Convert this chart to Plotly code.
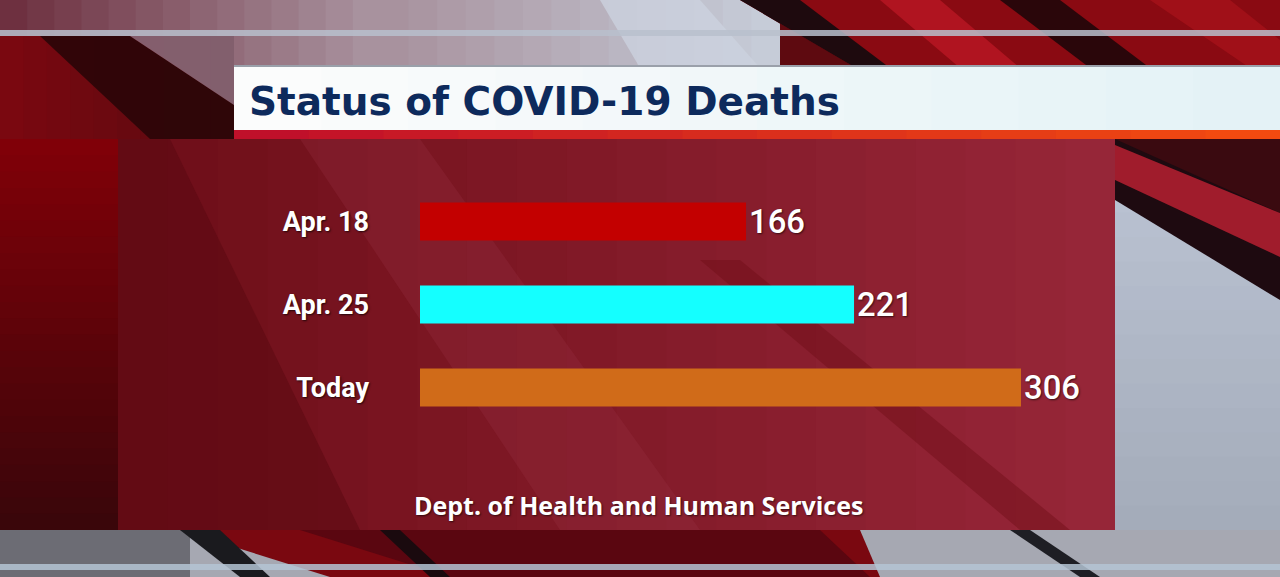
import plotly.graph_objects as go

categories = ["Apr. 18", "Apr. 25", "Today"]
deaths = [166, 221, 306]
bar_colors = ["#c30000", "#14ffff", "#d06b19"]
title_text = "Status of COVID-19 Deaths"
source_text = "Dept. of Health and Human Services"

W, H = 1280, 577
L, R, T, B = 420, 1107, 180, 429  # plot area in pixels


def px(x):
    return (x - L) / (R - L)


def py(y):
    return (B - y) / (B - T)


def poly(points, color, opacity=1.0):
    path = "M " + " L ".join(f"{px(x)},{py(y)}" for x, y in points) + " Z"
    return dict(type="path", xref="paper", yref="paper", path=path,
                fillcolor=color, line=dict(width=0), opacity=opacity, layer="below")


def rect(x0, y0, x1, y1, color, opacity=1.0):
    return dict(type="rect", xref="paper", yref="paper", x0=px(x0), x1=px(x1),
                y0=py(y1), y1=py(y0), fillcolor=color, line=dict(width=0),
                opacity=opacity, layer="below")


def mix(c0, c1, t):
    a = [int(c0[i:i + 2], 16) for i in (1, 3, 5)]
    b = [int(c1[i:i + 2], 16) for i in (1, 3, 5)]
    return "#" + "".join(f"{round(a[k] + (b[k] - a[k]) * t):02x}" for k in range(3))


def grad(x0, y0, x1, y1, c0, c1, n=16, horizontal=True):
    out = []
    for i in range(n):
        t = i / (n - 1)
        last = i == n - 1
        if horizontal:
            a, b = x0 + (x1 - x0) * i / n, x0 + (x1 - x0) * (i + 1) / n
            out.append(rect(a, y0, b if last else b + 2, y1, mix(c0, c1, t)))
        else:
            a, b = y0 + (y1 - y0) * i / n, y0 + (y1 - y0) * (i + 1) / n
            out.append(rect(x0, a, x1, b if last else b + 2, mix(c0, c1, t)))
    return out


shapes = [rect(0, 0, W, H, "#5e0a10")]
# top strip gradient
shapes += grad(0, 0, 380, 68, "#6e3040", "#a8929e", 14)
shapes += grad(380, 0, 780, 68, "#a8929e", "#c6ccd8", 14)
shapes += [
    poly([(600, 0), (700, 0), (760, 68), (640, 68)], "#ccd2de", 0.8),
    poly([(740, 0), (1280, 0), (1280, 68), (856, 68)], "#8a0a12"),
    poly([(740, 0), (800, 0), (890, 68), (856, 68)], "#1e0a0e"),
    poly([(880, 0), (940, 0), (1020, 68), (960, 68)], "#b01420"),
    poly([(1000, 0), (1060, 0), (1150, 68), (1090, 68)], "#2a060a"),
    poly([(1150, 0), (1230, 0), (1280, 40), (1280, 68), (1250, 68)], "#a01018"),
]
# left beside banner
shapes += grad(0, 36, 234, 139, "#7a0810", "#5a0a10", 10)
shapes += [
    poly([(40, 36), (130, 36), (234, 105), (234, 139), (150, 139)], "#2a0508", 0.9),
    poly([(130, 36), (234, 36), (234, 105)], "#8c7484", 0.8),
]
# left side vertical gradient
shapes += grad(0, 139, 118, 530, "#800008", "#3a060a", 24, horizontal=False)
# right side
shapes += grad(1115, 139, W, 530, "#bcc4d4", "#a4acba", 16, horizontal=False)
shapes += [
    poly([(1115, 139), (1280, 139), (1280, 300), (1115, 200)], "#1e0a10"),
    poly([(1115, 139), (1280, 139), (1280, 213)], "#3a0a10"),
    poly([(1115, 145), (1280, 213), (1280, 257), (1115, 180)], "#a01c2c"),
]
# bottom strip
shapes += [
    rect(0, 530, W, H, "#a6a8b2"),
    rect(0, 530, 190, H, "#6c6c74"),
    poly([(180, 530), (860, 530), (880, 577), (330, 577)], "#7a0810"),
    poly([(300, 530), (820, 530), (870, 577), (450, 577)], "#5a0610"),
    poly([(180, 530), (220, 530), (270, 577), (240, 577)], "#1a1a1e"),
    poly([(380, 530), (400, 530), (450, 577), (430, 577)], "#1a0a0e"),
    poly([(1010, 530), (1030, 530), (1100, 577), (1080, 577)], "#1e1e24"),
    # thin lines
    rect(0, 30, W, 36, "#b8c0cc", 0.85),
    rect(0, 564, W, 570, "#b4c4d4", 0.85),
]
# red panel
shapes += grad(118, 139, 1115, 530, "#6e0e18", "#962638", 20)
shapes += [
    poly([(300, 139), (420, 139), (700, 530), (560, 530)], "#9a3446", 0.25),
    poly([(700, 260), (740, 260), (1070, 530), (1020, 530)], "#6e0d16", 0.45),
    poly([(118, 139), (170, 139), (360, 530), (118, 530)], "#580810", 0.5),
]
# title banner
shapes += grad(234, 66, 1280, 131, "#fbfcfc", "#e4f2f6", 12)
shapes += [
    rect(234, 65, 1280, 67, "#9aa0aa"),
]
shapes += grad(234, 130, 1280, 139, "#c0102a", "#f24a10", 14)

fig = go.Figure(go.Bar(
    y=categories, x=deaths, orientation="h",
    marker=dict(color=bar_colors, line=dict(width=0)),
    text=[str(v) for v in deaths], textposition="outside", cliponaxis=False,
    textfont=dict(family="Roboto", size=38, color="white", weight=500,
                  shadow="1px 1px 2px rgba(0,0,0,0.6)"),
    hoverinfo="skip",
))

fig.update_layout(
    width=W, height=H,
    margin=dict(l=L, r=W - R, t=T, b=H - B, pad=0),
    paper_bgcolor="#5e0a10", plot_bgcolor="rgba(0,0,0,0)",
    bargap=1 - 38 / 83,
    showlegend=False,
    shapes=shapes,
    xaxis=dict(range=[0, (R - L) / 1.964], visible=False, fixedrange=True),
    yaxis=dict(autorange="reversed", showgrid=False, zeroline=False, showline=False,
               ticks="", ticklabelstandoff=50,
               tickfont=dict(family="Roboto", size=27, color="white", weight="bold",
                             shadow="1px 1px 2px rgba(0,0,0,0.7)")),
    annotations=[
        dict(xref="paper", yref="paper", x=px(247), y=py(101), xanchor="left",
             yanchor="middle", text=title_text, showarrow=False,
             font=dict(family="DejaVu Sans", size=39, color="#0d2a5c", weight="bold")),
        dict(xref="paper", yref="paper", x=px(638), y=py(505), xanchor="center",
             yanchor="middle", text=source_text, showarrow=False,
             font=dict(family="Open Sans", size=25, color="white", weight="bold",
                       shadow="1px 1px 2px rgba(0,0,0,0.6)")),
    ],
)

fig.write_html("out.html")
